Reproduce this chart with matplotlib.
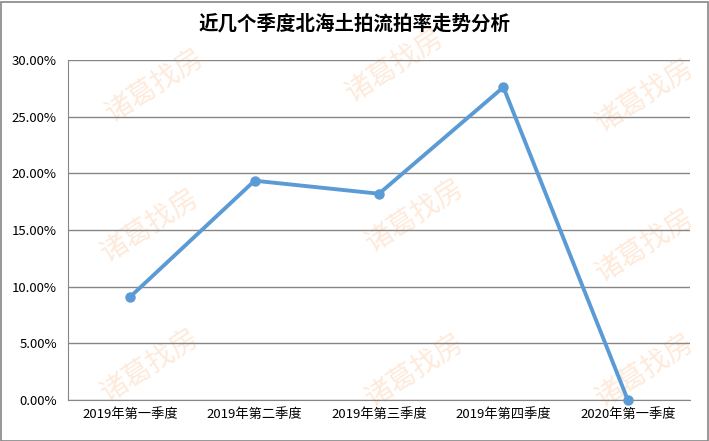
import matplotlib.pyplot as plt
from matplotlib.patches import Rectangle
from matplotlib.ticker import FuncFormatter

plt.rcParams['font.family'] = ['Noto Sans CJK SC', 'DejaVu Sans']

quarters = ["2019年第一季度", "2019年第二季度", "2019年第三季度", "2019年第四季度", "2020年第一季度"]
rates = [9.1, 19.35, 18.2, 27.6, 0.0]  # 流拍率 %

fig = plt.figure(figsize=(7.09, 4.41), dpi=100)
ax = fig.add_axes([68 / 709, 41 / 441, 622 / 709, 340 / 441])
ax.set_zorder(1)

# watermark, drawn underneath the axes
wm_pos = [(155, 85), (395, 65), (645, 95), (150, 225), (415, 215), (645, 245),
          (150, 365), (415, 370), (645, 370)]
for x, y in wm_pos:
    fig.text(x / 709, 1 - y / 441, "诸葛找房", fontsize=20, color="#feeadb",
             rotation=33, ha="center", va="center", zorder=-1)

xs = range(len(quarters))
ax.plot(xs, rates, color="#5b9bd5", lw=2.8, marker="o", ms=6.5, zorder=3,
        solid_joinstyle="round", clip_on=False)

ax.set_xlim(-0.5, len(quarters) - 0.5)
ax.set_ylim(0, 30)
ax.set_yticks([0, 5, 10, 15, 20, 25, 30])
ax.yaxis.set_major_formatter(FuncFormatter(lambda v, p: f"{v:.2f}%"))
ax.set_xticks(list(xs))
ax.set_xticklabels(quarters)
ax.grid(axis="y", color="#868686", lw=1)
ax.set_axisbelow(True)
ax.patch.set_alpha(0)
for s in ["top", "right"]:
    ax.spines[s].set_visible(False)
ax.spines["left"].set_color("#868686")
ax.spines["bottom"].set_color("#868686")
ax.tick_params(length=0, labelsize=9.5, pad=6)
ax.tick_params(axis="y", pad=8)

fig.text(0.5, 1 - 24 / 441, "近几个季度北海土拍流拍率走势分析", ha="center", va="center",
         fontsize=14, fontweight="bold")

fig.patches.append(Rectangle((0.5 / 709, 0.5 / 441), 707 / 709, 439 / 441,
                             transform=fig.transFigure, fill=False,
                             edgecolor="#868686", lw=1.2))

fig.savefig("out.png", dpi=100)
